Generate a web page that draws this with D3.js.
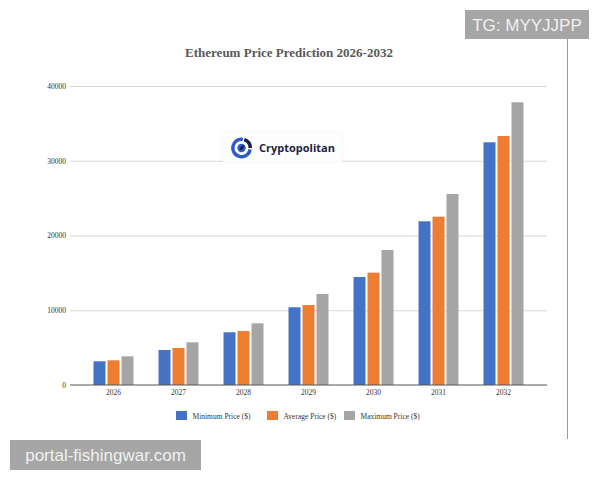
<html>
<head>
<script src="https://d3js.org/d3.v7.min.js"></script>
<style>
  body { margin: 0; background: #fff; }
  svg { display: block; }
</style>
</head>
<body>
<svg width="600" height="480"></svg>
<script>
// values
var years = ["2026", "2027", "2028", "2029", "2030", "2031", "2032"];
var minPrice = [3170, 4680, 7050, 10400, 14450, 21900, 32470];
var avgPrice = [3300, 4950, 7220, 10700, 15030, 22520, 33310];
var maxPrice = [3840, 5710, 8250, 12170, 18060, 25550, 37820];
var seriesNames = ["Minimum Price ($)", "Average Price ($)", "Maximum Price ($)"];
var seriesColors = ["#4472c4", "#ed7d31", "#a5a5a5"];
var yTicks = [0, 10000, 20000, 30000, 40000];

var seriesValues = [minPrice, avgPrice, maxPrice];
var rows = years.map(function(y, i) {
  return { year: y, values: seriesValues.map(function(s) { return s[i]; }) };
});

var svg = d3.select("svg");
var serif = "'Liberation Serif', 'Times New Roman', serif";

var plotLeft = 70, plotRight = 547;

var x0 = d3.scaleBand().domain(years).range([81, 536])
  .paddingInner(0.385).paddingOuter(0.1925);
var x1 = d3.scaleBand().domain(d3.range(3)).range([0, x0.bandwidth()])
  .paddingInner(0.143).paddingOuter(0);
var y = d3.scaleLinear().domain([0, 40000]).range([385, 86]);

// frame line on the right of the screenshot
svg.append("line")
  .attr("x1", 567.5).attr("x2", 567.5).attr("y1", 39).attr("y2", 439)
  .attr("stroke", "#9a9a9a").attr("stroke-width", 1);

// title
svg.append("text")
  .attr("x", 289).attr("y", 57)
  .attr("text-anchor", "middle")
  .style("font-family", serif).style("font-weight", "bold")
  .style("font-size", "13px").style("fill", "#595959")
  .text("Ethereum Price Prediction 2026-2032");

// y axis with gridlines
var yAxis = svg.append("g")
  .attr("transform", "translate(" + plotLeft + ",0)")
  .call(d3.axisLeft(y).tickValues(yTicks).tickFormat(d3.format("d"))
    .tickSize(-(plotRight - plotLeft)).tickPadding(4));
yAxis.select(".domain").remove();
yAxis.selectAll(".tick line").attr("stroke", "#d9d9d9")
  .attr("stroke-opacity", function(d) { return d === 0 ? 0 : 1; });
yAxis.selectAll("text").style("font-family", serif).style("font-size", "7.5px").style("fill", "#333");

// logo box
var defs = svg.append("defs");
var f = defs.append("filter").attr("id", "shadow").attr("x", "-10%").attr("y", "-20%").attr("width", "120%").attr("height", "140%");
f.append("feDropShadow").attr("dx", 0).attr("dy", 0).attr("stdDeviation", 1.5).attr("flood-color", "#000").attr("flood-opacity", 0.06);

var logo = svg.append("g");
logo.append("rect")
  .attr("x", 223).attr("y", 132).attr("width", 119).attr("height", 30)
  .attr("fill", "#fdfdfd").attr("filter", "url(#shadow)");
var arc = d3.arc();
logo.append("path")
  .attr("transform", "translate(241.5,148)")
  .attr("d", arc({ innerRadius: 7, outerRadius: 10.5, startAngle: Math.PI * 0.55, endAngle: Math.PI * 2.05 }))
  .attr("fill", "#2f5bc8");
logo.append("path")
  .attr("transform", "translate(241.5,148)")
  .attr("d", arc({ innerRadius: 7, outerRadius: 10.5, startAngle: Math.PI * 0.1, endAngle: Math.PI * 0.5 }))
  .attr("fill", "#1c1f3f");
logo.append("circle").attr("cx", 241.5).attr("cy", 148).attr("r", 4.2).attr("fill", "#2f5bc8");
logo.append("path")
  .attr("d", "M239.5,150.5 Q240,145.5 244.5,145 Q244,149.5 239.5,150.5 Z")
  .attr("fill", "#1c1f3f");
logo.append("text")
  .attr("x", 259).attr("y", 152)
  .style("font-family", "'Open Sans', Lato, sans-serif").style("font-weight", "bold")
  .style("font-size", "11px").style("fill", "#1c1f3f")
  .text("Cryptopolitan");

// bars
var groups = svg.append("g").selectAll("g").data(rows).enter().append("g")
  .attr("transform", function(d) { return "translate(" + x0(d.year) + ",0)"; });
groups.selectAll("rect").data(function(d) { return d.values; }).enter().append("rect")
  .attr("x", function(d, i) { return x1(i); })
  .attr("y", function(d) { return y(d); })
  .attr("width", x1.bandwidth())
  .attr("height", function(d) { return y(0) - y(d); })
  .attr("fill", function(d, i) { return seriesColors[i]; });

// baseline
svg.append("line")
  .attr("x1", plotLeft).attr("x2", plotRight).attr("y1", y(0)).attr("y2", y(0))
  .attr("stroke", "#555").attr("stroke-width", 1);

// x axis labels
var xAxis = svg.append("g")
  .attr("transform", "translate(0," + y(0) + ")")
  .call(d3.axisBottom(x0).tickSize(0).tickPadding(5));
xAxis.select(".domain").remove();
xAxis.selectAll("text").style("font-family", serif).style("font-size", "7.5px").style("fill", "#333");

// legend
var legendX = [176, 267, 344];
var legend = svg.append("g").selectAll("g").data(seriesNames).enter().append("g")
  .attr("transform", function(d, i) { return "translate(" + legendX[i] + ",411)"; });
legend.append("rect").attr("width", 11).attr("height", 9)
  .attr("fill", function(d, i) { return seriesColors[i]; });
legend.append("text").attr("x", 16.5).attr("y", 7.5)
  .style("font-family", serif).style("font-size", "7.5px").style("fill", "#333")
  .text(function(d) { return d; });

// watermark boxes
var marks = [
  { text: "TG: MYYJJPP", x: 465, y: 10, w: 124, h: 29 },
  { text: "portal-fishingwar.com", x: 10, y: 440, w: 191, h: 30 }
];
var wm = svg.append("g").selectAll("g").data(marks).enter().append("g");
wm.append("rect")
  .attr("x", function(d) { return d.x; }).attr("y", function(d) { return d.y; })
  .attr("width", function(d) { return d.w; }).attr("height", function(d) { return d.h; })
  .attr("fill", "#a6a6a6");
wm.append("text")
  .attr("x", function(d) { return d.x + d.w / 2; })
  .attr("y", function(d) { return d.y + d.h / 2 + 6; })
  .attr("text-anchor", "middle")
  .style("font-family", "'Liberation Sans', Arial, sans-serif").style("font-size", "17px").style("fill", "#f0f0f0")
  .text(function(d) { return d.text; });
</script>
</body>
</html>
